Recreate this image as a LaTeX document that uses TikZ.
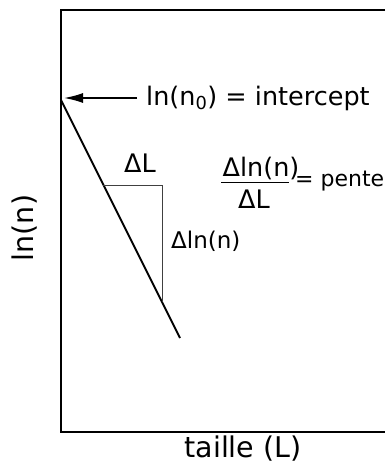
\documentclass[tikz,border=0pt]{standalone}
\usepackage{fontspec}
\setmainfont{DejaVu Sans}
\usetikzlibrary{arrows.meta,calc}

\begin{document}
\begin{tikzpicture}[
  x=1pt, y=-1pt,
  lbl/.style={inner sep=1pt, font=\fontsize{23}{27}\selectfont},
  biglbl/.style={inner sep=1pt, font=\fontsize{25.5}{30}\selectfont},
  axislbl/.style={inner sep=1pt, font=\fontsize{28.5}{33}\selectfont},
  frame/.style={line width=2.2pt},
  slope/.style={line width=2pt},
  guide/.style={line width=0.9pt, black!75},
  pointer/.style={line width=1.6pt, -{Latex[length=19pt,width=10pt]}}
]
  \useasboundingbox (0,0) rectangle (385,473);
  % plot frame, open on the right
  \draw[frame] (385,10) -- (61,10) -- (61,432) -- (385,432);
  \node[axislbl, rotate=90] (ylab) at (25,228) {ln(n)};
  \node[axislbl] (xlab) at (243,449) {taille (L)};

  % the line and its slope triangle
  \coordinate (n0)  at (61,100);
  \coordinate (end) at (180,338);
  \draw[slope] (n0) -- (end);
  \coordinate (a) at ($(n0)!0.357!(end)$);
  \coordinate (b) at ($(n0)!0.849!(end)$);
  \draw[guide] (a) -- (b |- a) -- (b);
  \node[biglbl] (dl) at (140,163) {ΔL};
  \node[lbl, anchor=west] (dln) at (170,241) {Δln(n)};

  % labels
  \node[biglbl, anchor=west] (icpt) at (145,98) {ln(n\textsubscript{0}) = intercept};
  \draw[pointer] ([xshift=-8pt]icpt.west) -- ([xshift=3pt]icpt.west -| n0);
  \node[biglbl] (num) at (261,168) {Δln(n)};
  \node[biglbl] (den) at (254,199) {ΔL};
  \draw[line width=1.8pt] ([yshift=-2pt]num.south west) -- ([yshift=-2pt,xshift=-12pt]num.south east);
  \node[lbl, font=\fontsize{22}{26}\selectfont, anchor=west] (pente) at (294,181) {= pente};
\end{tikzpicture}
\end{document}
